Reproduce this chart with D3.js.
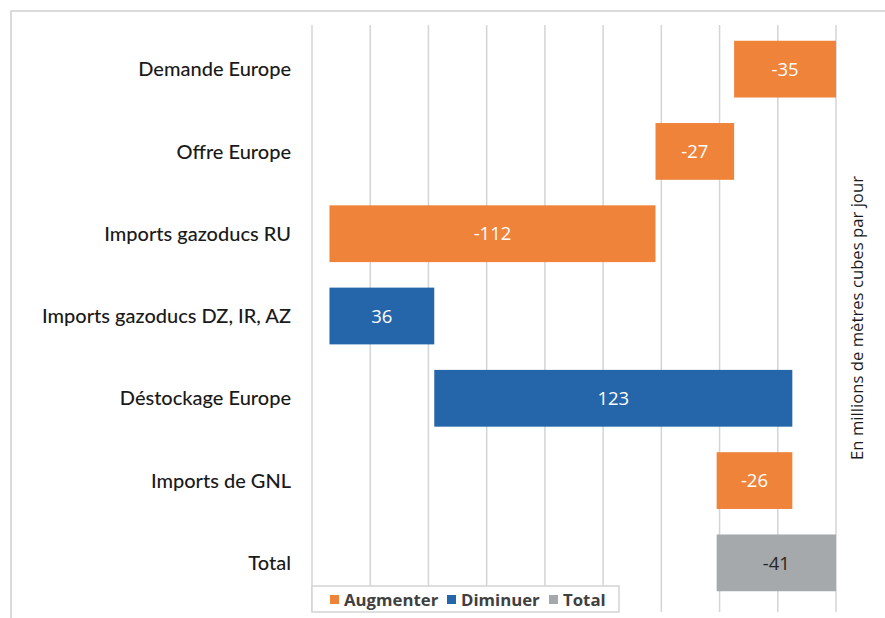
<!DOCTYPE html>
<html>
<head>
<meta charset="utf-8">
<script src="https://cdn.jsdelivr.net/npm/d3@7"></script>
<style>
  body { margin: 0; background: #fff; }
  svg { display: block; }
</style>
</head>
<body>
<script>
// waterfall data, in millions de m3 / jour
var categories = ["Demande Europe", "Offre Europe", "Imports gazoducs RU",
    "Imports gazoducs DZ, IR, AZ", "Déstockage Europe", "Imports de GNL", "Total"];
var values = [-35, -27, -112, 36, 123, -26, -41];
var kinds = ["Augmenter", "Augmenter", "Augmenter", "Diminuer", "Diminuer", "Augmenter", "Total"];
var legendNames = ["Augmenter", "Diminuer", "Total"];
var xTicks = [-180, -160, -140, -120, -100, -80, -60, -40, -20, 0];

var colors = {Augmenter: "#F0833A", Diminuer: "#2566AB", Total: "#A5A9AC"};

var W = 885, H = 618;
var svg = d3.select("body").append("svg").attr("width", W).attr("height", H);

// outer frame
svg.append("rect")
    .attr("x", 11).attr("y", 11).attr("width", W + 10).attr("height", H + 10)
    .attr("fill", "none").attr("stroke", "#d0d0d0").attr("stroke-width", 1.5);

var x = d3.scaleLinear().domain([-180, 0]).range([312, 836]);
var y = d3.scaleBand().domain(categories).range([28, 604]).paddingInner(0.31).paddingOuter(0.155);

// gridlines
svg.append("g").selectAll("line").data(xTicks).join("line")
    .attr("x1", d => x(d)).attr("x2", d => x(d))
    .attr("y1", 25).attr("y2", 612)
    .attr("stroke", "#d4d4d4").attr("stroke-width", 1.5);

// running totals for the waterfall
var bars = [];
var run = 0;
categories.forEach(function(c, i) {
    var start, end;
    if (kinds[i] == "Total") { start = 0; end = values[i]; }
    else { start = run; end = run + values[i]; run = end; }
    bars.push({cat: c, v: values[i], kind: kinds[i], a: Math.min(start, end), b: Math.max(start, end)});
});

svg.append("g").selectAll("rect").data(bars).join("rect")
    .attr("x", d => x(d.a))
    .attr("width", d => x(d.b) - x(d.a))
    .attr("y", d => y(d.cat))
    .attr("height", y.bandwidth())
    .attr("fill", d => colors[d.kind]);

svg.append("g").selectAll("text").data(bars).join("text")
    .attr("x", d => (x(d.a) + x(d.b)) / 2)
    .attr("y", d => y(d.cat) + y.bandwidth() / 2)
    .attr("dy", "0.36em")
    .attr("text-anchor", "middle")
    .attr("font-family", "'Open Sans', sans-serif")
    .attr("font-size", 18.5)
    .attr("fill", d => d.kind == "Total" ? "#262626" : "#fff")
    .text(d => d.v);

// category labels
svg.append("g").selectAll("text").data(categories).join("text")
    .attr("x", 291)
    .attr("y", d => y(d) + y.bandwidth() / 2)
    .attr("dy", "0.36em")
    .attr("text-anchor", "end")
    .attr("font-family", "Lato, sans-serif")
    .attr("font-size", 20)
    .attr("font-weight", 500)
    .attr("fill", "#1a1a1a")
    .text(d => d);

// axis title on the right
svg.append("text")
    .attr("transform", "translate(863,318) rotate(-90)")
    .attr("text-anchor", "middle")
    .attr("font-family", "'Open Sans', sans-serif")
    .attr("font-size", 16.7)
    .attr("fill", "#1a1a1a")
    .text("En millions de mètres cubes par jour");

// legend
var lg = svg.append("g");
lg.append("rect")
    .attr("x", 312).attr("y", 586).attr("width", 307).attr("height", 26)
    .attr("fill", "#fff").attr("stroke", "#d4d4d4").attr("stroke-width", 1.5);
var legX = [330, 447, 549];
legendNames.forEach(function(n, i) {
    lg.append("rect").attr("x", legX[i]).attr("y", 595).attr("width", 9).attr("height", 9)
        .attr("fill", colors[n]);
    lg.append("text").attr("x", legX[i] + 14).attr("y", 599.5).attr("dy", "0.36em")
        .attr("font-family", "'Open Sans', sans-serif").attr("font-size", 16.8).attr("font-weight", 700)
        .attr("fill", "#404040").text(n);
});
</script>
</body>
</html>
